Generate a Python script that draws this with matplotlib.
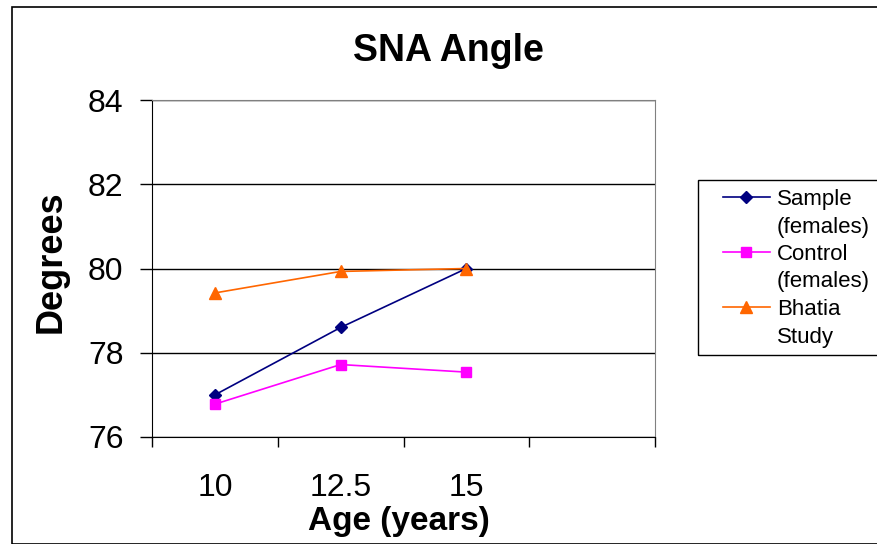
import numpy as np
import matplotlib.pyplot as plt
from matplotlib.patches import Rectangle
from matplotlib.lines import Line2D

plt.rcParams['font.family'] = ['Liberation Sans', 'DejaVu Sans']

ages = ["10", "12.5", "15", ""]
sample = [77.0, 78.6, 80.0]
control = [76.78, 77.72, 77.54]
bhatia = [79.42, 79.93, 80.0]
labels = [["Sample", "(females)"], ["Control", "(females)"], ["Bhatia", "Study"]]

W, H = 877, 544
fig = plt.figure(figsize=(W/100, H/100), dpi=100)
ax = fig.add_axes([152/W, 1-437/H, (655-152)/W, (437-100)/H])

x = np.arange(len(sample))
ax.plot(x, sample, color="#000080", marker="D", markersize=6, lw=1.2)
ax.plot(x, control, color="#FF00FF", marker="s", markersize=7, lw=1.2)
ax.plot(x, bhatia, color="#FF6600", marker="^", markersize=8, lw=1.2)

ax.set_xlim(-0.5, len(ages)-0.5)
ax.set_ylim(76, 84)
ax.set_yticks([76, 78, 80, 82, 84])
ax.set_xticks(np.arange(len(ages)))
ax.set_xticklabels(ages)
ax.set_xticks(np.arange(len(ages)+1)-0.5, minor=True)
ax.tick_params(axis="x", which="major", length=0, pad=26, labelsize=23)
ax.tick_params(axis="x", which="minor", length=7.5, width=1)
ax.tick_params(axis="y", length=9, width=1, labelsize=23, pad=11.5)
ax.grid(axis="y", color="black", lw=1)
ax.set_axisbelow(True)
for s in ["top", "right"]:
    ax.spines[s].set_color("#808080")
for s in ["left", "bottom"]:
    ax.spines[s].set_color("black")

ax.set_title("SNA Angle", fontsize=27, fontweight="bold", x=(448-152)/503, pad=28)
ax.set_xlabel("Age (years)", fontsize=24, fontweight="bold", labelpad=2, x=0.491)
ax.set_ylabel("Degrees", fontsize=26, fontweight="bold", labelpad=14, y=0.519)

# legend drawn by hand (Excel style: handle on the first line of each label)
pitch = 27.5
for i, (line, lab) in enumerate(zip(ax.get_lines(), labels)):
    y0 = 197 + pitch*2*i
    fig.add_artist(Line2D([723/W, 746/W, 770/W], [1-y0/H]*3, transform=fig.transFigure,
                          color=line.get_color(), lw=1.2, marker=line.get_marker(),
                          markersize=line.get_markersize(), markevery=[1]))
    for j, t in enumerate(lab):
        fig.text(777/W, 1-(y0 + pitch*j + 8)/H, t, fontsize=16, va="baseline", ha="left")

fig.patches.append(Rectangle((698/W, 1-355/H), 0.3, (355-180)/H, transform=fig.transFigure,
                             fill=False, edgecolor="black", lw=1))
fig.patches.append(Rectangle((12/W, 0), 1, 1-7/H, transform=fig.transFigure,
                             fill=False, edgecolor="black", lw=1.2))

fig.savefig("out.png", dpi=100)
